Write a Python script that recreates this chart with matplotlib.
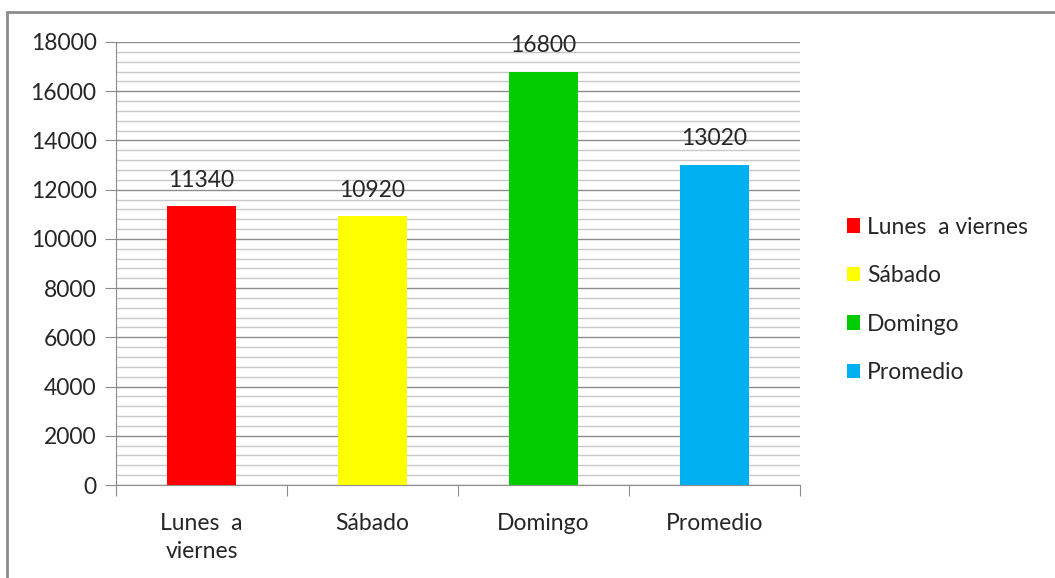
import matplotlib.pyplot as plt
from matplotlib.patches import Patch, Rectangle
from matplotlib.ticker import MultipleLocator

# =========================
# DATA
# =========================
categories = ["Lunes  a\nviernes", "Sábado", "Domingo", "Promedio"]
legend_labels = ["Lunes  a viernes", "Sábado", "Domingo", "Promedio"]
values = [11340, 10920, 16800, 13020]
colors = ["#FF0000", "#FFFF00", "#00CC00", "#00B0F0"]

plt.rcParams["font.family"] = ["Lato", "DejaVu Sans"]
text_color = "#262626"
fs = 16.5

fig = plt.figure(figsize=(10.55, 5.78), dpi=100)
ax = fig.add_axes([116 / 1055, 1 - 485 / 578, 684 / 1055, 443 / 578])

# outer chart frame (cut off at right / bottom like the reference)
fig.patches.append(Rectangle((7 / 1055, -0.05), 1.2, 1 - 12 / 578 + 0.05,
                             transform=fig.transFigure, fill=False,
                             edgecolor="#8c8c8c", linewidth=2))

x = range(len(values))
bars = ax.bar(x, values, width=0.4, color=colors, zorder=3)

for xi, v in zip(x, values):
    ax.annotate(str(v), (xi, v), xytext=(0, 11), textcoords="offset points",
                ha="center", va="bottom", fontsize=fs, color=text_color)

ax.set_xlim(-0.5, 3.5)
ax.set_ylim(0, 18000)
ax.yaxis.set_major_locator(MultipleLocator(2000))
ax.yaxis.set_minor_locator(MultipleLocator(400))
ax.grid(which="major", axis="y", color="#8c8c8c", linewidth=1, zorder=0)
ax.grid(which="minor", axis="y", color="#c8c8c8", linewidth=1, zorder=0)

# category labels between boundary ticks
ax.set_xticks([-0.5, 0.5, 1.5, 2.5, 3.5])
ax.set_xticklabels([])
ax.set_xticks(list(x), minor=True)
ax.set_xticklabels(categories, minor=True, fontsize=fs, color=text_color,
                   linespacing=1.45)
ax.tick_params(axis="x", which="major", direction="out", length=8,
               color="#8c8c8c")
ax.tick_params(axis="x", which="minor", length=0, pad=20)
ax.tick_params(axis="y", which="major", direction="out", length=8,
               color="#8c8c8c", labelsize=fs, labelcolor=text_color, pad=6)
ax.tick_params(axis="y", which="minor", length=0)

for side in ["top", "right"]:
    ax.spines[side].set_visible(False)
for side in ["left", "bottom"]:
    ax.spines[side].set_color("#8c8c8c")

handles = [Patch(facecolor=c, label=l) for c, l in zip(colors, legend_labels)]
fig.legend(handles=handles, loc="upper left",
           bbox_to_anchor=(826 / 1055, 1 - 196 / 578), frameon=False,
           fontsize=fs, handlelength=0.6, handleheight=0.6,
           handletextpad=0.3, labelspacing=1.2, labelcolor=text_color)

fig.savefig("out.png", dpi=100, facecolor="white")
